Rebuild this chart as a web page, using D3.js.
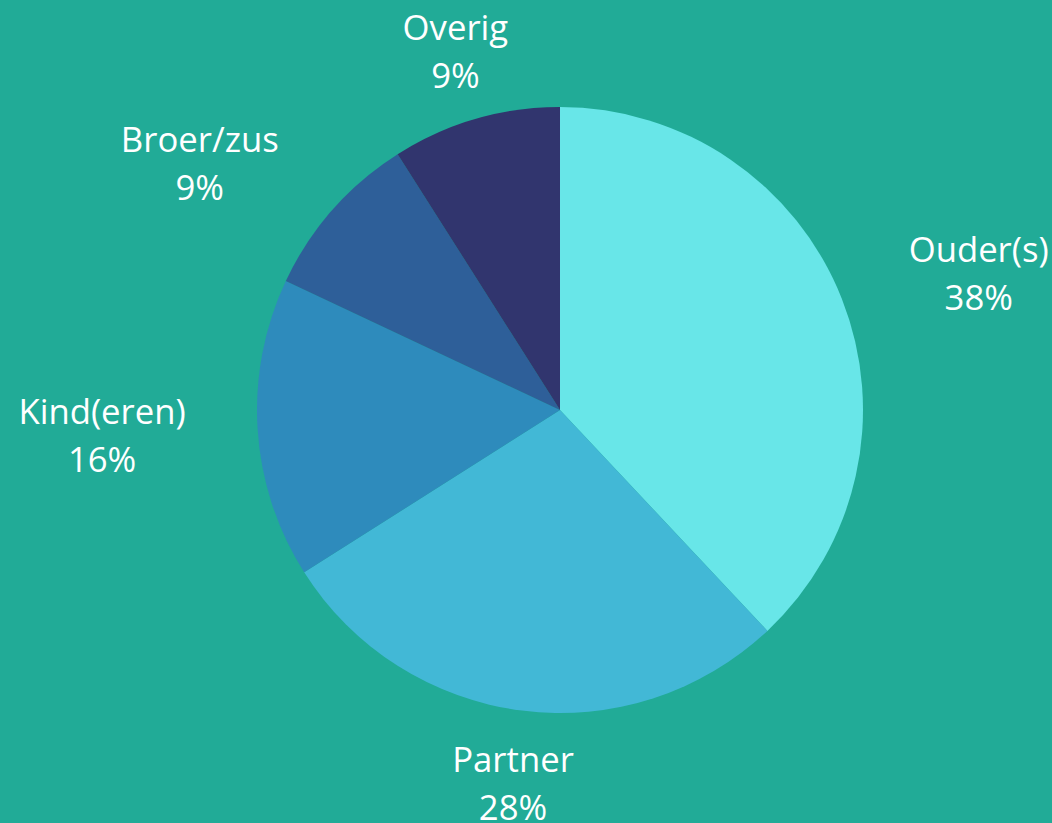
<!DOCTYPE html>
<html>
<head>
<meta charset="utf-8">
<script src="https://cdn.jsdelivr.net/npm/d3@7"></script>
<style>
  html, body { margin: 0; padding: 0; background: #21ab97; }
  svg { display: block; }
  text { font-family: "Open Sans", sans-serif; fill: #ffffff; }
</style>
</head>
<body>
<script>
// Chart data
const categories = ["Ouder(s)", "Partner", "Kind(eren)", "Broer/zus", "Overig"];
const values = [38, 28, 16, 9, 9];
const colors = ["#68e6e8", "#42b8d6", "#2e8bbc", "#2e5f99", "#31356e"];

const w = 1052;
const h = 823;
const cx = 560;
const cy = 410;
const radius = 303;
const labelRadius = 375;
const fontSize = 34.7;
const lineH = 48;

const svg = d3.select("body")
  .append("svg")
  .attr("width", w)
  .attr("height", h);

const pie = d3.pie().sort(null).value(d => d.value);
const arc = d3.arc().innerRadius(0).outerRadius(radius);

const data = categories.map((c, i) => ({ name: c, value: values[i], color: colors[i] }));
const arcs = pie(data);

const g = svg.append("g").attr("transform", "translate(" + cx + "," + cy + ")");

g.selectAll("path")
  .data(arcs)
  .enter()
  .append("path")
  .attr("d", arc)
  .style("fill", d => d.data.color);

// Labels: two centred lines, block anchored by side of the pie
const labels = g.selectAll("g.label")
  .data(arcs)
  .enter()
  .append("g")
  .attr("class", "label");

labels.each(function(d) {
  const mid = (d.startAngle + d.endAngle) / 2;
  const x = labelRadius * Math.sin(mid);
  const y = -labelRadius * Math.cos(mid) + 2;
  const sel = d3.select(this);
  const t1 = sel.append("text").style("font-size", fontSize + "px").attr("text-anchor", "middle").text(d.data.name);
  const t2 = sel.append("text").style("font-size", fontSize + "px").attr("text-anchor", "middle").text(d.data.value + "%");
  const bw = Math.max(t1.node().getComputedTextLength(), t2.node().getComputedTextLength());
  const s = Math.sin(mid);
  let bx = x;
  if (s > 0.3) bx = x + bw / 2;
  else if (s < -0.3) bx = x - bw / 2;
  t1.attr("x", bx).attr("y", y - lineH / 2).attr("dy", "0.35em");
  t2.attr("x", bx).attr("y", y + lineH / 2).attr("dy", "0.35em");
});
</script>
</body>
</html>
